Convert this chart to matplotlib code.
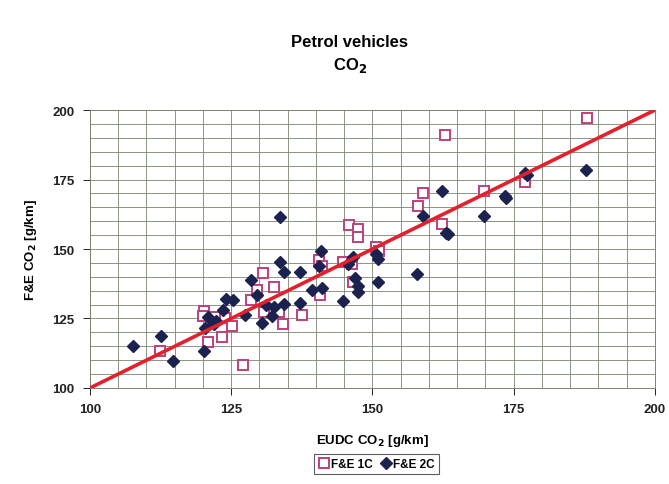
import numpy as np
import matplotlib.pyplot as plt
from matplotlib.ticker import MultipleLocator

plt.rcParams['font.family'] = ['Liberation Sans', 'DejaVu Sans']

# EUDC vs F&E CO2 values, petrol vehicles [g/km]
eudc_1c = [188.0, 162.8, 177.0, 169.8, 159.0, 158.0, 162.3, 145.8, 147.5, 147.4,
           150.6, 151.2, 140.5, 141.0, 144.8, 146.4, 146.5, 132.6, 140.7, 137.6,
           134.2, 133.5, 130.7, 129.5, 128.5, 130.8, 120.2, 120.0, 122.1, 123.9,
           125.2, 123.4, 120.9, 112.4, 127.1]
fe_1c = [197.3, 191.2, 174.0, 171.0, 170.0, 165.6, 159.0, 158.6, 157.2, 154.2,
         150.6, 149.2, 146.0, 143.9, 145.2, 144.6, 138.0, 136.5, 133.3, 126.3,
         123.0, 127.3, 141.2, 135.2, 131.7, 127.3, 127.8, 125.9, 125.5, 125.2,
         122.3, 118.3, 116.5, 113.3, 108.3]

eudc_2c = [107.6, 112.6, 114.7, 120.2, 120.4, 120.9, 121.9, 122.3, 123.5, 124.1,
           125.3, 127.4, 128.5, 129.5, 130.5, 131.1, 132.5, 132.2, 133.6, 134.4,
           133.7, 134.3, 137.1, 137.2, 139.3, 141.0, 140.5, 140.9, 144.8, 145.7,
           146.5, 146.9, 147.4, 147.4, 150.6, 151.0, 151.0, 157.9, 159.0, 162.3,
           163.0, 163.3, 169.7, 173.5, 173.6, 177.0, 177.3, 187.8]
fe_2c = [115.0, 118.7, 109.7, 113.2, 121.4, 125.5, 123.0, 124.2, 127.9, 132.1,
         131.5, 126.4, 138.8, 133.5, 123.4, 129.8, 129.0, 125.9, 145.3, 141.7,
         161.5, 130.2, 141.7, 130.6, 135.3, 136.0, 143.9, 149.2, 131.3, 144.6,
         147.3, 139.6, 136.7, 134.5, 148.2, 146.3, 138.0, 141.0, 161.9, 171.0,
         155.8, 155.3, 161.9, 169.0, 168.4, 177.5, 176.8, 178.4]

# y = x reference line
ref_line = [100, 200]

fig = plt.figure(figsize=(6.69, 4.85), dpi=100)
ax = fig.add_axes([0.1345, 0.198, 0.8445, 0.573])

ax.plot(eudc_1c, fe_1c, linestyle='none', marker='s', markersize=6.5,
        markerfacecolor='white', markeredgecolor='#c0407a', markeredgewidth=1.4,
        label='F&E 1C', zorder=3)
ax.plot(eudc_2c, fe_2c, linestyle='none', marker='D', markersize=6.5,
        color='#1c2250', label='F&E 2C', zorder=4)
ax.plot(ref_line, ref_line, color='#e3202c', linewidth=2.6, zorder=5)

ax.set_xlim(100, 200)
ax.set_ylim(100, 200)
ax.xaxis.set_major_locator(MultipleLocator(25))
ax.yaxis.set_major_locator(MultipleLocator(25))
ax.xaxis.set_minor_locator(MultipleLocator(5))
ax.yaxis.set_minor_locator(MultipleLocator(5))
ax.grid(which='both', color='#7a8470', linewidth=0.6)
ax.set_axisbelow(True)
ax.tick_params(which='major', direction='out', length=5, width=0.7, pad=6,
               labelsize=9.5, colors='#222222')
ax.tick_params(which='minor', length=0)
for lbl in ax.get_xticklabels() + ax.get_yticklabels():
    lbl.set_fontweight('bold')

for side in ax.spines.values():
    side.set_color('#7a8470')
    side.set_linewidth(0.7)

ax.set_xlabel('EUDC CO$_\\mathbf{2}$ [g/km]', fontsize=9.5, fontweight='bold', labelpad=12)
ax.set_ylabel('F&E CO$_\\mathbf{2}$ [g/km]', fontsize=9.5, fontweight='bold', labelpad=10)

fig.text(0.523, 0.913, 'Petrol vehicles', ha='center', va='center',
         fontsize=12, fontweight='bold')
fig.text(0.523, 0.865, 'CO$_\\mathbf{2}$', ha='center', va='center',
         fontsize=12, fontweight='bold')

leg = fig.legend(loc='center', bbox_to_anchor=(0.563, 0.041), ncol=2,
                 prop={'size': 8.5, 'weight': 'bold'}, frameon=True,
                 fancybox=False, handletextpad=0.2, columnspacing=0.6,
                 handlelength=0.9, borderpad=0.35, borderaxespad=0)
leg.get_frame().set_edgecolor('#333333')
leg.get_frame().set_linewidth(0.8)

fig.savefig('out.png', dpi=100)
